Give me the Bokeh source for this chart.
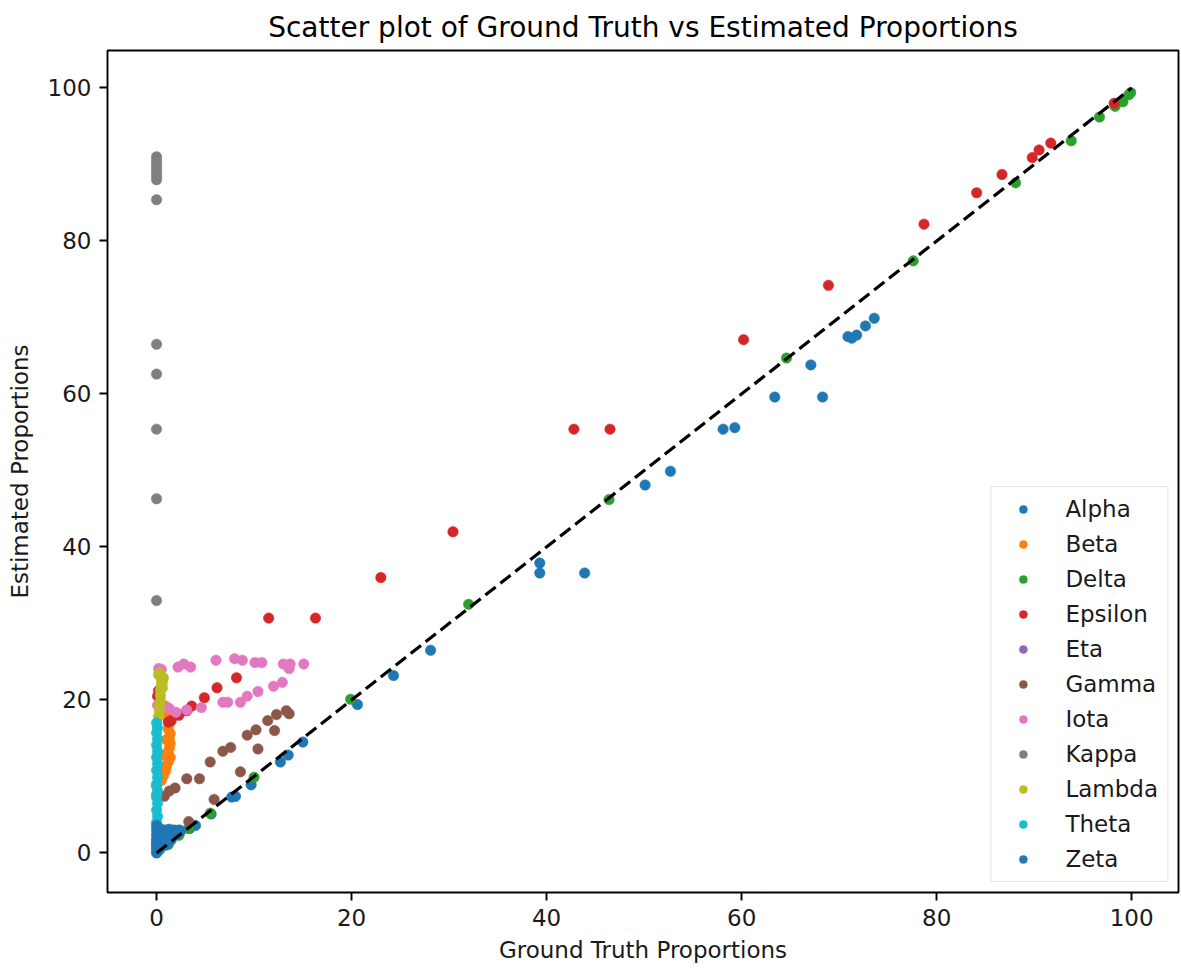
from bokeh.plotting import figure
from bokeh.models import Range1d, Legend
from bokeh.embed import file_html
from bokeh.resources import INLINE

title_text = "Scatter plot of Ground Truth vs Estimated Proportions"
x_label = "Ground Truth Proportions"
y_label = "Estimated Proportions"
x_ticks = [0, 20, 40, 60, 80, 100]
y_ticks = [0, 20, 40, 60, 80, 100]

series_names = ["Alpha", "Beta", "Delta", "Epsilon", "Eta", "Gamma",
                "Iota", "Kappa", "Lambda", "Theta", "Zeta"]
series_colors = ["#1f77b4", "#ff7f0e", "#2ca02c", "#d62728", "#9467bd", "#8c564b",
                 "#e377c2", "#7f7f7f", "#bcbd22", "#17becf", "#1f77b4"]

alpha_x = [1.8, 3.4, 4.0, 5.6, 7.7, 8.1, 9.7, 12.7, 13.5, 15.0, 20.6, 24.3, 28.1,
           39.3, 39.3, 43.9, 50.1, 52.7, 58.1, 59.3, 63.4, 67.1, 68.3, 70.9, 71.3,
           71.8, 72.7, 73.6]
alpha_y = [2.5, 3.2, 3.6, 5.1, 7.3, 7.4, 8.9, 11.9, 12.8, 14.5, 19.4, 23.2, 26.5,
           37.9, 36.6, 36.6, 48.1, 49.9, 55.4, 55.6, 59.6, 63.8, 59.6, 67.5, 67.3,
           67.7, 68.9, 69.9]

beta_x = [0.9, 1.1, 1.2, 1.3, 1.2, 1.4, 1.3, 1.4, 1.3, 1.2, 1.4, 1.2, 1.0, 0.9,
          0.7, 0.5, 0.6, 1.0, 0.8]
beta_y = [19.2, 18.4, 17.6, 16.9, 16.2, 15.6, 15.0, 14.3, 13.7, 13.1, 12.5, 11.9,
          11.3, 10.7, 10.1, 9.5, 18.9, 14.8, 12.8]

delta_x = [1.2, 2.3, 3.3, 5.5, 10.0, 19.9, 32.0, 46.4, 64.6, 77.6, 88.1, 93.8,
           96.7, 98.3, 99.1, 99.7, 99.9]
delta_y = [1.1, 2.3, 3.2, 5.2, 9.9, 20.1, 32.5, 46.2, 64.7, 77.4, 87.6, 93.1,
           96.2, 97.6, 98.2, 99.1, 99.4]

epsilon_x = [0.1, 0.2, 0.3, 1.2, 1.5, 2.3, 3.1, 3.6, 4.9, 6.2, 8.2, 11.5, 16.3,
             23.0, 30.4, 42.8, 46.5, 60.2, 68.9, 78.7, 84.1, 86.7, 89.8, 90.5,
             91.7, 98.2]
epsilon_y = [20.5, 21.2, 19.5, 17.1, 17.3, 18.0, 18.6, 19.2, 20.3, 21.6, 22.9,
             30.7, 30.7, 36.0, 42.0, 55.4, 55.4, 67.1, 74.2, 82.2, 86.3, 88.7,
             90.9, 91.9, 92.8, 98.0]

eta_x = [0.0, 0.1, 0.0, 0.2]
eta_y = [0.2, 0.5, 1.0, 1.4]

gamma_x = [0.8, 1.3, 1.9, 3.1, 3.3, 4.4, 5.5, 5.9, 6.8, 7.6, 8.6, 9.3, 10.2,
           10.4, 11.4, 12.1, 12.3, 13.3, 13.6]
gamma_y = [7.4, 8.1, 8.5, 9.7, 4.1, 9.7, 11.9, 7.0, 13.3, 13.8, 10.6, 15.4,
           16.1, 13.6, 17.3, 16.0, 18.1, 18.6, 18.2]

iota_x = [0.2, 0.5, 2.2, 2.8, 3.5, 6.1, 8.0, 8.8, 10.1, 10.8, 13.0, 13.7, 13.6,
          15.1, 0.1, 0.8, 1.3, 2.0, 3.1, 4.6, 6.8, 7.3, 8.6, 9.3, 10.4, 12.0, 12.9]
iota_y = [24.1, 24.0, 24.3, 24.7, 24.3, 25.2, 25.4, 25.2, 24.9, 24.9, 24.7, 24.7,
          24.1, 24.7, 19.3, 19.1, 18.9, 18.4, 18.7, 19.0, 19.7, 19.7, 19.7, 20.5,
          21.1, 21.8, 22.3]

kappa_x = [0.0, 0.0, 0.0, 0.0, 0.0, 0.0, 0.0, 0.0, 0.0, 0.0, 0.0, 0.0, 0.0,
           0.0, 0.0, 0.0]
kappa_y = [91.0, 90.5, 90.0, 89.5, 89.0, 88.5, 88.0, 85.4, 66.5, 62.6, 55.4,
           46.3, 33.0, 8.8, 7.6, 1.5]

lambda_x = [0.2, 0.3, 0.3, 0.4, 0.4, 0.4, 0.5, 0.5, 0.4, 0.3, 0.2, 0.6, 0.7, 0.6]
lambda_y = [17.8, 18.5, 19.2, 19.9, 20.6, 21.3, 22.0, 22.6, 23.1, 23.5, 23.3, 22.3,
            22.9, 21.6]

theta_x = [0.0, 0.1, 0.0, 0.1, 0.0, 0.1, 0.0, 0.1, 0.0, 0.1, 0.0, 0.1, 0.0,
           0.1, 0.0, 0.1, 0.0]
theta_y = [4.0, 4.8, 5.6, 6.5, 7.3, 8.1, 9.0, 9.9, 10.8, 11.7, 12.5, 13.3, 14.1,
           14.9, 15.7, 16.4, 17.0]

zeta_x = [0.0, 0.0, 0.0, 0.0, 0.0, 0.0, 0.3, 0.5, 0.8, 1.0, 1.3, 1.5, 1.8, 2.0,
          2.3, 2.5, 0.4, 0.8, 1.2, 1.6, 2.0, 0.3, 0.7, 1.1, 1.5, 0.2, 0.5, 0.9,
          0.1, 0.3, 0.0]
zeta_y = [0.0, 0.6, 1.2, 1.8, 2.4, 3.0, 3.0, 3.1, 2.9, 3.0, 3.1, 2.9, 3.0, 2.8,
          3.0, 2.9, 2.2, 2.3, 2.1, 2.2, 2.4, 1.5, 1.6, 1.4, 1.7, 0.8, 0.9, 1.0,
          0.3, 0.4, 3.6]

identity_line = [0, 100]

series_x = [alpha_x, beta_x, delta_x, epsilon_x, eta_x, gamma_x, iota_x,
            kappa_x, lambda_x, theta_x, zeta_x]
series_y = [alpha_y, beta_y, delta_y, epsilon_y, eta_y, gamma_y, iota_y,
            kappa_y, lambda_y, theta_y, zeta_y]

FONT = "DejaVu Sans"

p = figure(width=1181, height=968, output_backend="svg", toolbar_location=None,
           x_range=Range1d(-5.03, 104.8), y_range=Range1d(-5.17, 104.9),
           min_border_left=107, min_border_right=3, min_border_top=50,
           min_border_bottom=76, title=title_text)

p.title.text_font = FONT
p.title.text_font_size = "28px"
p.title.text_font_style = "normal"
p.title.text_color = "#000000"
p.title.align = "center"
p.title.standoff = 14

p.grid.visible = False
p.outline_line_color = "#000000"
p.outline_line_width = 1.9
p.background_fill_color = "white"
p.border_fill_color = "white"

for ax in (p.xaxis[0], p.yaxis[0]):
    ax.axis_line_color = None
    ax.major_tick_line_color = "#000000"
    ax.major_tick_line_width = 1.9
    ax.major_tick_out = 8
    ax.major_tick_in = 0
    ax.minor_tick_line_color = None
    ax.major_label_text_font = FONT
    ax.major_label_text_font_size = "23px"
    ax.major_label_text_color = "#1a1a1a"
    ax.axis_label_text_font = FONT
    ax.axis_label_text_font_size = "23px"
    ax.axis_label_text_font_style = "normal"
    ax.axis_label_text_color = "#1a1a1a"
    ax.major_label_standoff = 8

p.xaxis.ticker = x_ticks
p.yaxis.ticker = y_ticks
p.xaxis.axis_label = x_label
p.yaxis.axis_label = y_label
p.xaxis.axis_label_standoff = 8
p.yaxis.axis_label_standoff = 12

items = []
for name, color, xs, ys in zip(series_names, series_colors, series_x, series_y):
    r = p.scatter(xs, ys, size=10.5, fill_color=color, line_color=color,
                  line_width=0.5)
    items.append((name, [r]))

p.line(identity_line, identity_line, line_color="#000000", line_width=3.2,
       line_dash="13 6")

legend = Legend(items=items, location="bottom_right", margin=10, padding=9,
                spacing=9, glyph_width=45, glyph_height=20, label_height=24,
                label_standoff=20, label_text_font=FONT,
                label_text_font_size="23px", label_text_color="#1a1a1a",
                border_line_color="#cccccc", border_line_width=1.3,
                background_fill_color="white", background_fill_alpha=0.8)
p.add_layout(legend, "center")

open("out.html", "w").write(file_html(p, INLINE))
